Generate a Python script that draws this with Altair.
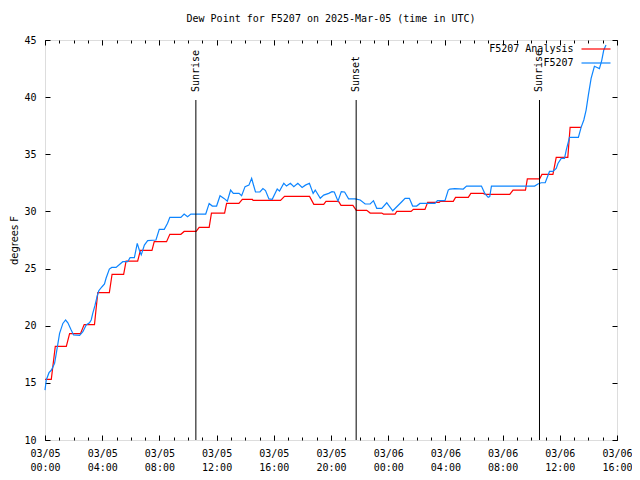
import json
import altair as alt
import pandas as pd

# ---- data -------------------------------------------------------------
series_names = ["F5207 Analysis", "F5207"]
series_colors = ["#ff0000", "#0d85ff"]

# analysis (step-like): start hour, end hour, value of each step
red_start = [0.0, 0.72, 1.72, 2.74, 3.69, 4.69, 5.67, 6.67, 7.64, 8.73, 9.73, 10.78,
             11.64, 12.70, 13.80, 14.55, 16.75, 18.80, 19.65, 20.70, 21.77, 22.74,
             23.67, 24.60, 25.76, 26.76, 27.65, 28.71, 29.78, 30.80, 32.73, 33.73,
             34.75, 35.75, 36.72]
red_end = [0.44, 1.49, 2.48, 3.46, 4.50, 5.50, 6.48, 7.48, 8.50, 9.50, 10.57, 11.48,
           12.56, 13.56, 14.50, 16.47, 18.50, 19.49, 20.53, 21.53, 22.50, 23.55,
           24.48, 25.60, 26.57, 27.57, 28.55, 29.60, 30.64, 32.50, 33.60, 34.59,
           35.52, 36.56, 37.49]
red_value = [15.3, 18.2, 19.3, 20.1, 22.9, 24.5, 25.65, 26.6, 27.35, 28.0, 28.25, 28.6,
             29.85, 30.7, 31.05, 30.97, 31.32, 30.62, 30.88, 30.53, 30.1, 29.86,
             29.77, 30.0, 30.18, 30.8, 30.88, 31.23, 31.58, 31.5, 31.87, 32.84,
             33.24, 34.73, 37.36]

# observations: (hours since 03/05 00:00 UTC, dew point F)
obs_points = [
    (0.00, 14.37), (0.09, 15.25), (0.28, 15.89), (0.44, 16.1), (0.67, 16.7), (0.79, 17.58),
    (1.02, 19.33), (1.25, 20.2), (1.44, 20.5), (1.60, 20.26), (1.83, 19.62), (2.00, 19.19),
    (2.42, 19.16), (2.65, 19.48), (2.88, 20.06), (3.11, 20.26), (3.23, 20.5), (3.34, 21.08),
    (3.50, 21.8), (3.64, 22.54), (3.76, 23.06), (3.99, 23.41), (4.16, 23.65), (4.27, 24.15),
    (4.50, 24.96), (4.67, 25.1), (4.97, 25.1), (5.25, 25.4), (5.44, 25.6), (5.78, 25.6),
    (5.95, 25.95), (6.25, 25.95), (6.45, 27.2), (6.60, 26.6), (6.73, 26.2), (6.95, 27.06),
    (7.18, 27.45), (7.76, 27.5), (7.99, 28.43), (8.34, 28.43), (8.57, 28.96), (8.73, 29.48),
    (9.50, 29.48), (9.73, 29.77), (9.97, 29.54), (10.20, 29.77), (11.24, 29.77), (11.48, 30.7),
    (11.70, 30.47), (12.00, 30.47), (12.24, 31.37), (12.52, 31.14), (12.75, 30.9), (12.98, 31.87),
    (13.17, 31.58), (13.57, 31.58), (13.75, 31.37), (13.99, 32.17), (14.26, 32.3), (14.45, 32.9),
    (14.56, 32.4), (14.72, 31.7), (15.03, 31.7), (15.24, 32.0), (15.42, 31.83), (15.66, 31.1),
    (15.89, 31.06), (16.24, 31.96), (16.40, 31.78), (16.70, 32.46), (16.89, 32.22), (17.16, 32.46),
    (17.40, 32.17), (17.68, 32.46), (17.98, 32.1), (18.21, 32.3), (18.49, 32.46), (18.75, 31.58),
    (18.90, 31.87), (19.25, 31.15), (19.49, 31.43), (19.84, 31.58), (20.07, 31.73), (20.23, 31.7),
    (20.49, 30.9), (20.72, 31.73), (20.95, 31.7), (21.23, 31.1), (21.69, 31.1), (22.04, 31.0),
    (22.39, 30.65), (22.74, 30.65), (22.97, 30.94), (23.20, 30.27), (23.55, 30.27), (23.90, 30.76),
    (24.02, 30.56), (24.32, 30.06), (24.60, 30.41), (24.95, 30.85), (25.18, 31.15), (25.48, 31.15),
    (25.71, 30.47), (25.99, 30.47), (26.22, 30.7), (27.27, 30.7), (27.44, 30.94), (27.97, 30.94),
    (28.20, 31.87), (28.31, 31.96), (28.66, 32.0), (29.25, 31.96), (29.48, 32.22), (30.52, 32.22),
    (30.75, 31.58), (30.99, 31.23), (31.10, 31.3), (31.22, 32.22), (34.24, 32.22), (34.47, 32.4),
    (34.70, 32.51), (34.98, 32.51), (35.28, 33.5), (35.52, 33.5), (35.75, 33.77), (35.87, 34.2),
    (36.10, 34.64), (36.33, 34.64), (36.45, 35.37), (36.68, 36.48), (37.30, 36.48), (37.49, 37.36),
    (37.68, 38.0), (37.84, 38.87), (38.00, 40.2), (38.19, 41.64), (38.42, 42.7), (38.61, 42.6),
    (38.77, 42.5), (38.93, 43.2), (39.07, 44.1), (39.23, 44.56),
]

event_names = ["Sunrise", "Sunset", "Sunrise"]
event_hours = [10.55, 21.76, 34.58]

x_date_labels = ["03/05"] * 6 + ["03/06"] * 5
x_time_labels = ["00:00", "04:00", "08:00", "12:00", "16:00", "20:00",
                 "00:00", "04:00", "08:00", "12:00", "16:00"]
y_tick_values = [10, 15, 20, 25, 30, 35, 40, 45]

# ---- tables -----------------------------------------------------------
red_rows = []
for s, e, v in zip(red_start, red_end, red_value):
    red_rows.append({"hour": s, "value": v, "series": series_names[0]})
    red_rows.append({"hour": e, "value": v, "series": series_names[0]})
red_df = pd.DataFrame(red_rows)
obs_df = pd.DataFrame([{"hour": h, "value": v, "series": series_names[1]} for h, v in obs_points])
ev_df = pd.DataFrame({"name": event_names, "hour": event_hours})

MONO = "DejaVu Sans Mono"
FS = 10
xs = alt.Scale(domain=[0, 40], nice=False, zero=False)
ys = alt.Scale(domain=[10, 45], nice=False, zero=False)
hours_all = list(range(0, 41))
hours_major = list(range(0, 41, 4))

label_expr = (
    "datum.value % 4 != 0 ? '' : ["
    + json.dumps(x_date_labels) + "[datum.value/4], "
    + json.dumps(x_time_labels) + "[datum.value/4]]"
)

color = alt.Color(
    "series:N",
    scale=alt.Scale(domain=series_names, range=series_colors),
    legend=alt.Legend(
        orient="none", legendX=545, legendY=3, title=None,
        symbolType="M-2.9,0H2.9", symbolSize=100, symbolStrokeWidth=1.2,
        labelAlign="right", labelOffset={"expr": "-28.5"}, labelFont=MONO, labelFontSize=FS,
        labelColor="black", labelLimit=0, rowPadding=3, padding=0,
    ),
)

common_tick = dict(domain=False, grid=False, tickColor="black", tickWidth=1, title=None)

red_layer = alt.Chart(red_df).mark_line(strokeWidth=1.2).encode(
    x=alt.X("hour:Q", scale=xs, axis=alt.Axis(
        orient="bottom", values=hours_all, offset=-3, tickSize=3, labelPadding=8,
        labelExpr=label_expr, labelFont=MONO, labelFontSize=FS, labelColor="black",
        labelLineHeight=14, labelOverlap=False, labelFlush=False, **common_tick)),
    y=alt.Y("value:Q", scale=ys, axis=alt.Axis(
        orient="left", values=y_tick_values, offset=-5, tickSize=5, labelPadding=9,
        labelFont=MONO, labelFontSize=FS, labelColor="black", labelOverlap=False,
        domain=False, grid=False, tickColor="black", tickWidth=1,
        title="degrees F", titleFont="DejaVu Sans", titleFontSize=FS,
        titleFontWeight="normal", titleColor="black", titleAngle=270,
        titleX=-36, titleY=200, titleAlign="center", titleBaseline="middle")),
    color=color,
)

obs_layer = alt.Chart(obs_df).mark_line(strokeWidth=1.2).encode(
    x=alt.X("hour:Q", scale=xs, axis=alt.Axis(
        orient="bottom", values=hours_major, offset=-5, tickSize=5, labels=False, **common_tick)),
    y=alt.Y("value:Q", scale=ys, axis=alt.Axis(
        orient="right", values=y_tick_values, offset=-5, tickSize=5, labels=False, **common_tick)),
    color=color,
)

rules = alt.Chart(ev_df).mark_rule(color="black", strokeWidth=1).encode(
    x=alt.X("hour:Q", scale=xs, axis=alt.Axis(
        orient="top", values=hours_all, offset=-3, tickSize=3, labels=False, **common_tick)),
    y=alt.datum(10, scale=ys, axis=None),
    y2=alt.datum(39.75),
)

texts = alt.Chart(ev_df).mark_text(
    angle=270, align="left", baseline="middle", font=MONO, fontSize=FS, color="black"
).encode(
    x=alt.X("hour:Q", scale=xs, axis=alt.Axis(
        orient="top", values=hours_major, offset=-5, tickSize=5, labels=False, **common_tick)),
    y=alt.datum(40.45, scale=ys, axis=None),
    text="name:N",
)

chart = alt.layer(red_layer, obs_layer, rules, texts).resolve_axis(
    x="independent", y="independent"
).properties(
    width=572, height=400,
    title=alt.TitleParams(
        "Dew Point for F5207 on 2025-Mar-05 (time in UTC)",
        font=MONO, fontSize=FS, fontWeight="normal", color="black",
        anchor="middle", offset=11,
    ),
    padding={"left": 37, "top": 32, "right": 15, "bottom": 31},
    autosize=alt.AutoSizeParams(type="none"),
).configure_view(stroke="black", strokeWidth=1).configure(background="white")

chart.save("out.html", embed_options={"renderer": "svg", "actions": False})
